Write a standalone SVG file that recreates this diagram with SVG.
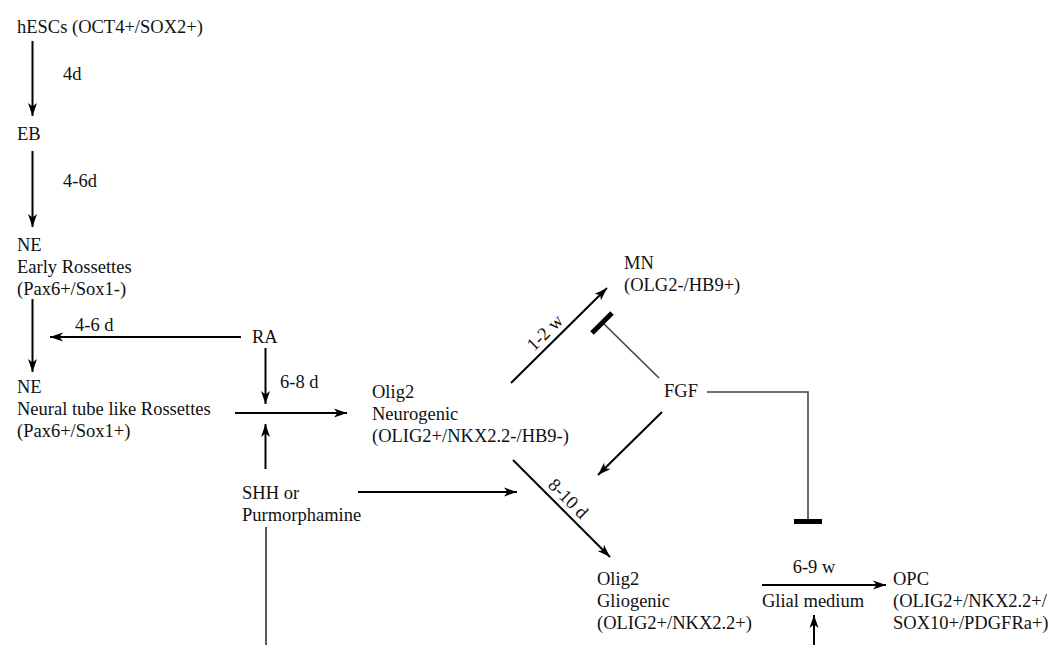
<svg xmlns="http://www.w3.org/2000/svg" width="1059" height="645" viewBox="0 0 1059 645" font-family="'Liberation Serif', 'Times New Roman', Times, serif" font-size="18.5">
<defs>
<marker id="ah" markerUnits="userSpaceOnUse" markerWidth="14" markerHeight="10" refX="13" refY="5" orient="auto">
<path d="M0,0.5 L13,5 L0,9.5 L3.5,5 Z" fill="#000"/>
</marker>
<style>
text{font-family:'Liberation Serif','Times New Roman',Times,serif;font-size:18.5px;fill:#111}
.ar{stroke:#000;stroke-width:2;fill:none;marker-end:url(#ah)}
.ln{stroke:#222;stroke-width:1.5;fill:none}
.inh{stroke:#444;stroke-width:1.6;fill:none}
.bar{stroke:#000;stroke-width:5;fill:none}
</style>
</defs>
<rect width="1059" height="645" fill="#fff"/>
<g id="hescs"><text x="17" y="33">hESCs (OCT4+/SOX2+)</text></g>
<g id="eb"><text x="17" y="140">EB</text></g>
<g id="ne-early"><text x="17" y="251">NE</text><text x="17" y="273">Early Rossettes</text><text x="17" y="295">(Pax6+/Sox1-)</text></g>
<g id="ne-tube"><text x="17" y="393">NE</text><text x="17" y="415">Neural tube like Rossettes</text><text x="17" y="437">(Pax6+/Sox1+)</text></g>
<g id="ra"><text x="252" y="343">RA</text></g>
<g id="shh"><text x="242" y="499">SHH or</text><text x="242" y="521">Purmorphamine</text></g>
<g id="olig2-neuro"><text x="372" y="398">Olig2</text><text x="372" y="420">Neurogenic</text><text x="372" y="442">(OLIG2+/NKX2.2-/HB9-)</text></g>
<g id="mn"><text x="624" y="269">MN</text><text x="624" y="291">(OLG2-/HB9+)</text></g>
<g id="fgf"><text x="664" y="397">FGF</text></g>
<g id="olig2-glio"><text x="597" y="585">Olig2</text><text x="597" y="607">Gliogenic</text><text x="597" y="629">(OLIG2+/NKX2.2+)</text></g>
<g id="glial-medium"><text x="813" y="607" text-anchor="middle">Glial medium</text></g>
<g id="opc"><text x="893" y="585">OPC</text><text x="893" y="607">(OLIG2+/NKX2.2+/</text><text x="893" y="629">SOX10+/PDGFRa+)</text></g>
<g id="connectors">
<line class="ar" x1="32.5" y1="41" x2="32.5" y2="116"/>
<line class="ar" x1="32.5" y1="151" x2="32.5" y2="227"/>
<line class="ar" x1="32.5" y1="299" x2="32.5" y2="372"/>
<line class="ar" x1="241" y1="337" x2="50" y2="337"/>
<line class="ar" x1="265.5" y1="348" x2="265.5" y2="404"/>
<line class="ar" x1="235" y1="413" x2="347" y2="413"/>
<line class="ar" x1="265.5" y1="469" x2="265.5" y2="424"/>
<line class="ln" x1="266" y1="527" x2="266" y2="645"/>
<line class="ar" x1="358" y1="492" x2="517" y2="492"/>
<line class="ar" x1="511" y1="383" x2="607" y2="288"/>
<line class="ar" x1="513" y1="460" x2="610" y2="557"/>
<line class="ar" x1="662" y1="412" x2="598" y2="475"/>
<line class="inh" x1="659" y1="378" x2="603" y2="323"/>
<line class="bar" x1="592" y1="333" x2="612" y2="313"/>
<polyline class="inh" points="707,392 808,392 808,519"/>
<line class="bar" x1="794" y1="521.5" x2="822" y2="521.5"/>
<line class="ar" x1="762" y1="585" x2="886" y2="585"/>
<line class="ar" x1="814" y1="645" x2="814" y2="615"/>
<text x="63" y="80">4d</text>
<text x="63" y="187">4-6d</text>
<text x="75" y="331">4-6 d</text>
<text x="280" y="388">6-8 d</text>
<text x="549" y="337" text-anchor="middle" transform="rotate(-45 549 337)">1-2 w</text>
<text x="564" y="503" text-anchor="middle" transform="rotate(45 564 503)">8-10 d</text>
<text x="814" y="573" text-anchor="middle">6-9 w</text>
</g>
</svg>
